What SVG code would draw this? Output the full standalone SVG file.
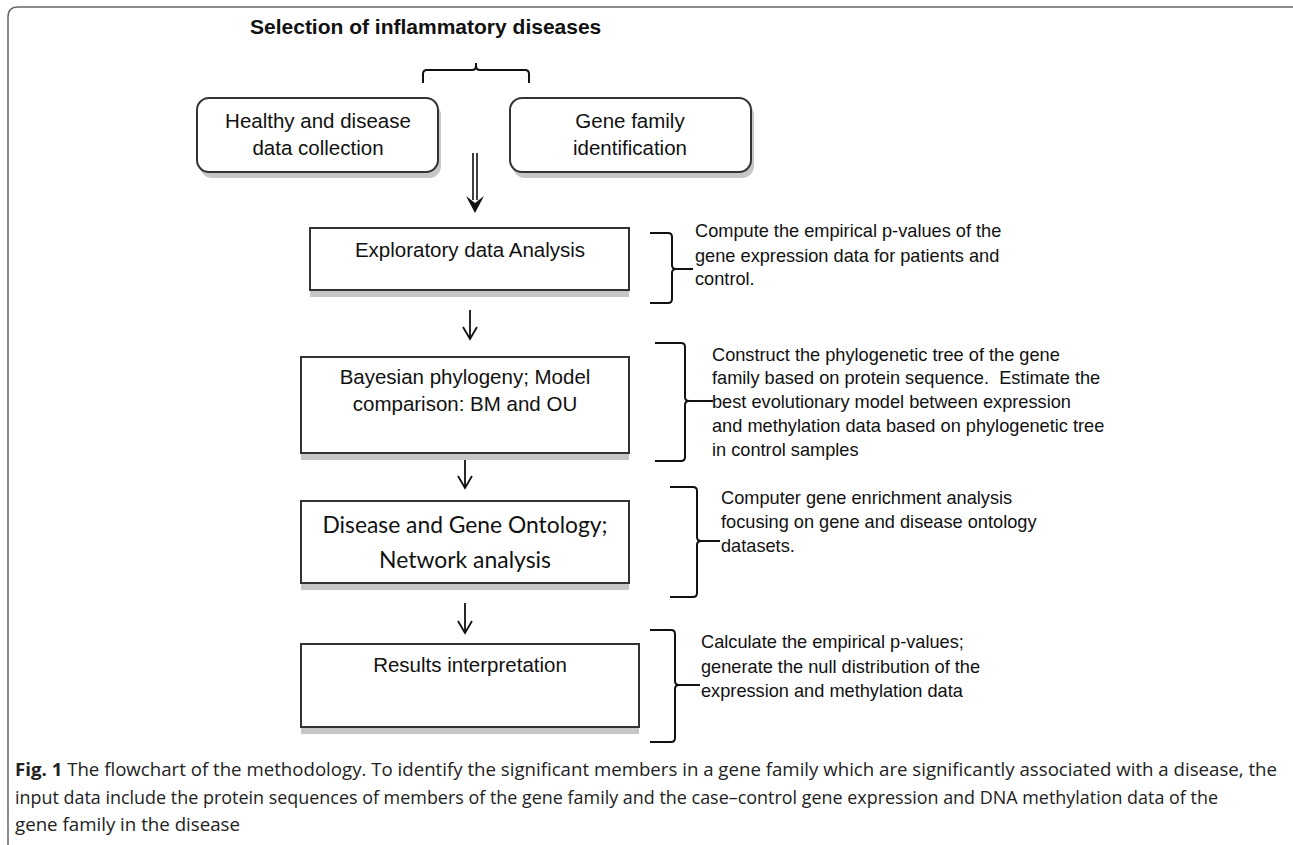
<svg xmlns="http://www.w3.org/2000/svg" width="1293" height="845" viewBox="0 0 1293 845">
<style>
.box{fill:#fff;stroke:#333;stroke-width:2}
.shadow{fill:#c6c6c6}
.t{font-family:"Liberation Sans",Arial,sans-serif;fill:#111}
.bt{font-size:20.5px;text-anchor:middle}
.st{font-size:18.2px}
.br{fill:none;stroke:#111;stroke-width:2}
.ar{fill:none;stroke:#111;stroke-width:1.8}
.cap{font-family:"Open Sans","Lato",sans-serif;font-size:18px;fill:#222}
</style>
<rect width="1293" height="845" fill="#fff"/>
<path d="M8,845 V17 Q8,7 18,7 H1293" fill="none" stroke="#666" stroke-width="1.5"/>
<text class="t" x="250" y="34" font-size="21" font-weight="bold">Selection of inflammatory diseases</text>
<g id="connectors">
<path class="br" d="M423,83 V74 Q423,70 427,70 H472 Q476,70 476,66 V63 M476,66 Q476,70 480,70 H525 Q529,70 529,74 V83"/>
<path d="M473,153 V200 M477,153 V200" stroke="#111" stroke-width="1.6" fill="none"/>
<polygon points="466,196 475,213 484,196 475,203" fill="#111"/>
<path class="ar" d="M470,310 V339 M463,327 L470,339 L477,327"/>
<path class="ar" d="M465,460 V488 M458,476 L465,488 L472,476"/>
<path class="ar" d="M465,603 V633 M458,621 L465,633 L472,621"/>
</g>
<g id="n1">
<rect class="shadow" x="200" y="103" width="241" height="75" rx="12"/>
<rect class="box" x="197" y="98" width="241" height="74" rx="12"/>
<text class="t bt" x="318" y="128">Healthy and disease</text>
<text class="t bt" x="318" y="155">data collection</text>
</g>
<g id="n2">
<rect class="shadow" x="513" y="103" width="241" height="75" rx="12"/>
<rect class="box" x="510" y="98" width="241" height="74" rx="12"/>
<text class="t bt" x="630" y="128">Gene family</text>
<text class="t bt" x="630" y="155">identification</text>
</g>
<g id="n3">
<rect class="shadow" x="310" y="290" width="319" height="7"/>
<rect class="box" x="310" y="228" width="319" height="62"/>
<text class="t bt" x="470" y="257">Exploratory data Analysis</text>
<path class="br" d="M650,233 H668 Q672,233 672,237 V265 Q672,269 676,269 H693 M676,269 Q672,269 672,273 V299 Q672,303 668,303 H650"/>
<text class="t st" x="695" y="237">Compute the empirical p-values of the</text>
<text class="t st" x="695" y="262">gene expression data for patients and</text>
<text class="t st" x="695" y="285">control.</text>
</g>
<g id="n4">
<rect class="shadow" x="301" y="453" width="328" height="7"/>
<rect class="box" x="301" y="357" width="328" height="96"/>
<text class="t bt" x="465" y="384">Bayesian phylogeny; Model</text>
<text class="t bt" x="465" y="411">comparison: BM and OU</text>
<path class="br" d="M655,343 H681 Q685,343 685,347 V397 Q685,401 689,401 H713 M689,401 Q685,401 685,405 V457 Q685,461 681,461 H655"/>
<text class="t st" x="712" y="361">Construct the phylogenetic tree of the gene</text>
<text class="t st" x="712" y="384" xml:space="preserve">family based on protein sequence.  Estimate the</text>
<text class="t st" x="712" y="408">best evolutionary model between expression</text>
<text class="t st" x="712" y="432">and methylation data based on phylogenetic tree</text>
<text class="t st" x="712" y="456">in control samples</text>
</g>
<g id="n5">
<rect class="shadow" x="301" y="583" width="328" height="7"/>
<rect class="box" x="301" y="501" width="328" height="82"/>
<text x="465" y="533" font-family="Lato,'Open Sans',sans-serif" font-size="23" text-anchor="middle" fill="#111" textLength="285" lengthAdjust="spacingAndGlyphs">Disease and Gene Ontology;</text>
<text x="465" y="568" font-family="Lato,'Open Sans',sans-serif" font-size="23" text-anchor="middle" fill="#111" textLength="172" lengthAdjust="spacingAndGlyphs">Network analysis</text>
<path class="br" d="M670,487 H693 Q697,487 697,491 V537 Q697,541 701,541 H720 M701,541 Q697,541 697,545 V593 Q697,597 693,597 H670"/>
<text class="t st" x="721" y="504">Computer gene enrichment analysis</text>
<text class="t st" x="721" y="528">focusing on gene and disease ontology</text>
<text class="t st" x="721" y="552">datasets.</text>
</g>
<g id="n6">
<rect class="shadow" x="301" y="727" width="338" height="7"/>
<rect class="box" x="301" y="644" width="338" height="83"/>
<text class="t bt" x="470" y="672">Results interpretation</text>
<path class="br" d="M650,630 H671 Q675,630 675,634 V681 Q675,685 679,685 H700 M679,685 Q675,685 675,689 V738 Q675,742 671,742 H650"/>
<text class="t st" x="701" y="648">Calculate the empirical p-values;</text>
<text class="t st" x="701" y="673">generate the null distribution of the</text>
<text class="t st" x="701" y="697">expression and methylation data</text>
</g>
<g id="caption">
<text class="cap" x="15" y="776" textLength="1262" lengthAdjust="spacingAndGlyphs"><tspan font-weight="bold">Fig. 1</tspan> The flowchart of the methodology. To identify the significant members in a gene family which are significantly associated with a disease, the</text>
<text class="cap" x="15" y="804" textLength="1203" lengthAdjust="spacingAndGlyphs">input data include the protein sequences of members of the gene family and the case–control gene expression and DNA methylation data of the</text>
<text class="cap" x="15" y="831" textLength="225" lengthAdjust="spacingAndGlyphs">gene family in the disease</text>
</g>
</svg>
